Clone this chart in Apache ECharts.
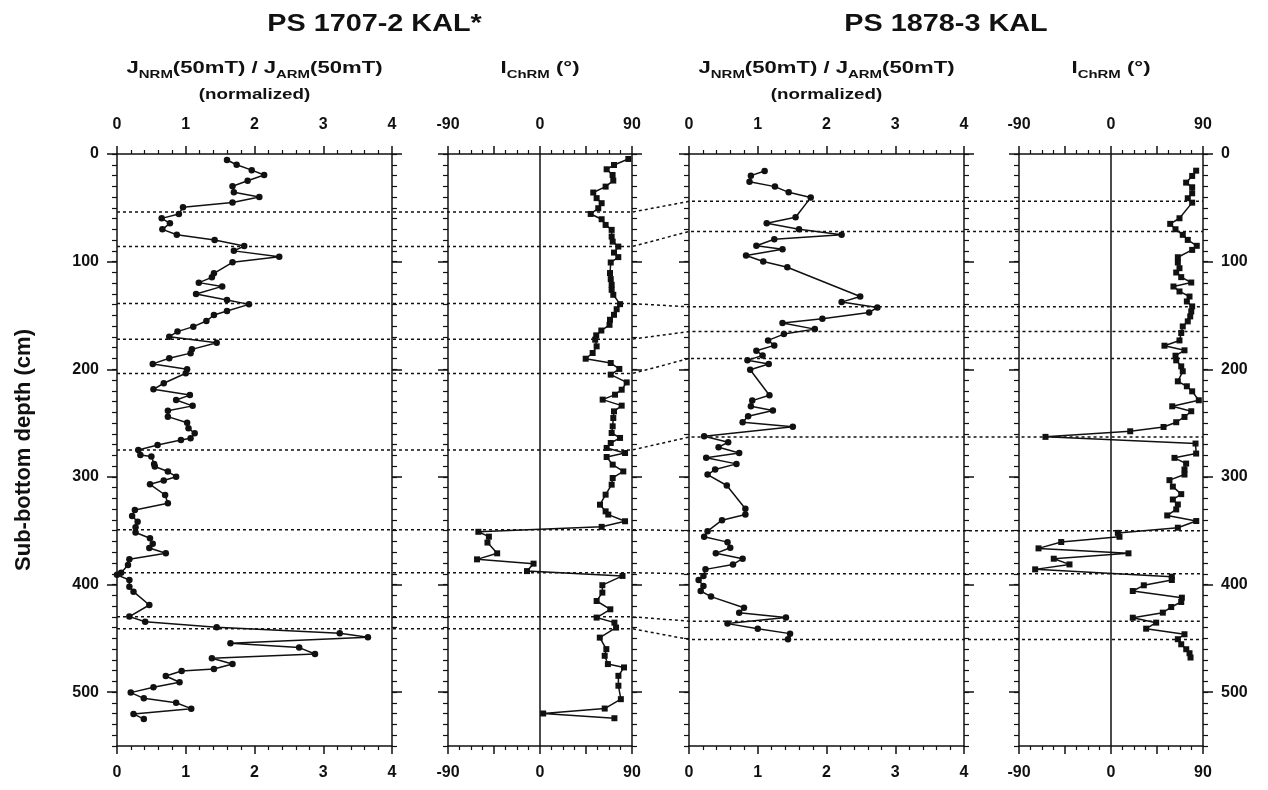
<!DOCTYPE html>
<html><head><meta charset="utf-8">
<script src="https://cdn.jsdelivr.net/npm/echarts@6/dist/echarts.min.js"></script>
<style>html,body{margin:0;padding:0;background:#fff}#c{width:1268px;height:790px}</style>
</head><body><div id="c"></div>
<script>
// PS 1707-2 KAL*: J_NRM/J_ARM (normalized) [value, depth cm]
const ps1707Ratio = [[1.60,5.6],[1.74,10],[1.96,15],[2.14,19.5],[1.90,24.8],[1.68,30],[1.70,35.6],[2.07,40],[1.68,45],[0.96,49.5],[0.90,55.7],[0.65,59.8],[0.77,64.4],[0.66,70],[0.87,75],[1.42,80],[1.85,85.5],[1.70,90],[2.36,95.4],[1.68,100.6],[1.41,110.9],[1.38,114.6],[1.19,119.5],[1.53,123],[1.15,130],[1.60,135.6],[1.92,139.7],[1.60,145.9],[1.41,149.6],[1.30,155.2],[1.11,160.4],[0.88,165],[0.76,169.7],[1.45,175.3],[1.09,181.5],[1.07,185],[0.76,189.8],[0.52,195],[1.02,200],[1.00,203.7],[0.68,213],[0.53,218.6],[1.06,224],[0.86,228.5],[1.10,234],[0.74,238.5],[0.74,244],[1.02,249.6],[1.04,254.8],[1.13,259.5],[1.07,264],[0.93,265.7],[0.59,270.3],[0.31,275],[0.34,279.6],[0.50,281],[0.54,288],[0.55,290.4],[0.74,295],[0.86,299.8],[0.68,303.3],[0.48,306.9],[0.70,316.8],[0.74,324.5],[0.26,330.7],[0.22,336.3],[0.30,341.6],[0.27,346.8],[0.27,351.7],[0.48,357],[0.52,362],[0.47,366],[0.71,371],[0.18,376.6],[0.16,381.8],[0.06,389],[0.0,391],[0.18,395.8],[0.18,402],[0.24,406.6],[0.47,419],[0.18,429.8],[0.41,434.5],[1.45,439.7],[3.24,445.3],[3.65,449],[1.65,454.6],[2.65,458.6],[2.88,464.5],[1.38,468.5],[1.68,473.8],[1.41,478.5],[0.94,480.3],[0.71,485],[0.91,490.8],[0.53,495.5],[0.20,500.4],[0.39,505.7],[0.86,509.8],[1.08,515.3],[0.24,520.2],[0.39,525]];
// PS 1707-2 KAL*: I_ChRM (deg) [value, depth cm]
const ps1707Incl = [[86.4,4.6],[72.4,10.2],[65.2,14.2],[71,19.5],[71.7,24.7],[64.2,30.3],[52.1,35.8],[55.4,41],[60.3,45.7],[57,50.4],[49.6,55.7],[60.3,60.6],[64.2,65.9],[70.1,70.5],[70.1,76.7],[71.1,81.4],[76.6,86],[72.4,91.6],[76.6,95.8],[69.2,100.8],[68.5,110.6],[69.2,116.2],[70.1,121.5],[70.1,126.2],[71.7,130.8],[78.3,139.5],[75,144.2],[72.4,149.4],[68.5,154],[68,158.7],[60,164],[55,168.5],[54,172.5],[55.4,178.7],[51.5,184.9],[44.7,190.2],[69.2,194.2],[77.6,199.7],[69.2,205],[84.8,212.2],[79.9,219],[73.4,223.6],[61.3,228.2],[79.9,233.8],[72.4,239.1],[71.7,245.3],[71.1,253],[70.1,259.2],[78.3,263.8],[69.2,268.5],[65.2,273.1],[83.2,277.8],[65.2,281.5],[71.1,288.6],[81.5,294.9],[71.1,301],[70.1,307.2],[64.2,316.5],[58.7,325.8],[64.2,332],[66.8,335],[83.2,341.2],[60.3,346.4],[-60.3,351],[-50,355.5],[-51.4,361],[-41.9,371],[-61.6,376.6],[-6.3,380.6],[-12.7,387.5],[80.7,392],[61,400.6],[61,407.5],[55.4,415.3],[68.8,423],[55.4,430.7],[72.8,435.4],[74.4,440],[58.5,449.3],[64.9,460],[63.3,466.2],[66.4,473.9],[82.2,477],[76.7,484.8],[76.7,494],[79.1,506.5],[63.3,515.2],[3.1,519.8],[72.8,524.2]];
// PS 1878-3 KAL: J_NRM/J_ARM (normalized)
const ps1878Ratio = [[1.10,15.8],[0.90,20.1],[0.88,25.7],[1.25,30.3],[1.45,35.6],[1.77,40.5],[1.55,58.7],[1.13,64.3],[1.60,69.9],[2.22,75.1],[1.24,79.2],[0.98,85.3],[1.36,88.5],[0.83,94.3],[1.08,99.9],[1.43,105.2],[2.49,132.4],[2.22,137.6],[2.74,142.6],[2.62,147.2],[1.94,153.1],[1.36,157.1],[1.83,162.7],[1.38,167.3],[1.15,173.2],[1.24,177.8],[0.98,182.8],[1.07,187.1],[0.85,191.7],[1.16,195.1],[0.89,200.4],[1.17,224.2],[0.92,229.1],[0.90,234.4],[1.22,238.4],[0.86,243.6],[0.78,249.2],[1.51,253.5],[0.22,262.2],[0.57,267.8],[0.43,272.4],[0.73,277.7],[0.25,282.3],[0.69,287.9],[0.38,293.2],[0.27,297.8],[0.55,308],[0.82,329.6],[0.82,334.9],[0.48,340.2],[0.27,350.4],[0.22,355.6],[0.56,360.6],[0.60,365.8],[0.39,371],[0.78,376],[0.64,381.3],[0.24,385.9],[0.21,392.1],[0.14,395.8],[0.21,401.4],[0.17,406],[0.32,411.2],[0.80,421.5],[0.73,426.1],[1.41,430.7],[0.56,436.3],[1.00,441],[1.47,445.6],[1.44,450.8]];
// PS 1878-3 KAL: I_ChRM (deg)
const ps1878Incl = [[83.3,15.5],[79.4,20.4],[73.5,26.6],[79.4,30.9],[79.4,36.5],[75.1,41.1],[79.4,45.2],[67,59.7],[57.9,64.9],[63.1,69.9],[70.2,75.1],[75.1,79.8],[83.9,85.3],[79.4,89.1],[65.4,95.9],[65.4,100.8],[67,106.1],[63.8,110.1],[68.7,114.4],[78.5,119.4],[61.1,123.1],[67,127.7],[76.8,132.4],[74.2,137],[79.4,141.6],[78.5,146.3],[77.5,150.9],[75.1,155.5],[70.2,160.2],[68.7,166.3],[67,173.2],[52.3,178.1],[71.9,182.4],[63.1,187.4],[63.8,191.7],[68.7,197.3],[70.2,201.9],[65.4,211.2],[74.2,215.8],[79.4,220.5],[85.9,228.8],[59.9,234.4],[78.5,239],[71.9,244.3],[63.8,249.2],[51.4,253.6],[18.8,257.6],[-64.1,262.8],[82.7,269],[83.3,278.3],[62.1,282.3],[73.5,287.6],[71.9,293.1],[71.9,297.8],[57.2,303],[60.5,309],[68.7,316],[60.5,321],[65.4,325.6],[63.8,330.2],[55,335.8],[83.4,341],[65.4,347.2],[6.7,352],[8.3,355.6],[-48.7,360.5],[-70.9,366.4],[17.1,371],[-56,376],[-40.6,381.3],[-74.2,385.9],[59.5,392.7],[59.5,395.8],[32.1,400.7],[21.3,406],[69.3,412.2],[68.7,416.2],[58.9,420.9],[50.7,426.1],[21.3,430.8],[44.2,435.4],[34.4,441],[71.9,446.2],[65.4,450.8],[68.7,455.5],[73.6,460.1],[76.8,463.8],[77.8,467.8]];
// Tie lines (depth cm) PS 1707-2 -> PS 1878-3
const tie1707 = [54, 86, 139, 172, 204, 275, 349, 389, 430, 441];
const tie1878 = [44, 72, 142, 165, 190, 263, 350, 390, 434, 451];
// Tick labels
const ratioLabels = [0, 1, 2, 3, 4];
const inclLabels = [-90, 0, 90];
const depthLabels = [0, 100, 200, 300, 400, 500];

const FONT = '"Liberation Sans", Arial, sans-serif';
const INK = '#111';
const TOP = 154, HEIGHT = 592;
const panels = [
  {left: 117, width: 275, min: 0, max: 4, interval: 1, minor: 5, data: ps1707Ratio, symbol: 'circle', labels: ratioLabels},
  {left: 448, width: 184, min: -90, max: 90, interval: 45, minor: 4, data: ps1707Incl, symbol: 'rect', labels: inclLabels, zero: true},
  {left: 689, width: 275, min: 0, max: 4, interval: 1, minor: 5, data: ps1878Ratio, symbol: 'circle', labels: ratioLabels},
  {left: 1019, width: 184, min: -90, max: 90, interval: 45, minor: 4, data: ps1878Incl, symbol: 'rect', labels: inclLabels, zero: true}
];
const lineStyle = {color: INK, width: 1.5};
const labelStyle = {color: INK, fontSize: 16, fontWeight: 'bold', fontFamily: FONT};

const grid = [], xAxis = [], yAxis = [], series = [];
panels.forEach((p, i) => {
  grid.push({left: p.left, top: TOP, width: p.width, height: HEIGHT, containLabel: false});
  ['bottom', 'top'].forEach(pos => {
    xAxis.push({
      gridIndex: i, type: 'value', position: pos, min: p.min, max: p.max, interval: p.interval,
      axisLine: {show: true, onZero: false, lineStyle},
      axisTick: {show: true, length: 8, lineStyle},
      minorTick: {show: true, splitNumber: p.minor, length: 4, lineStyle: {color: INK, width: 1.2}},
      splitLine: {show: false}, minorSplitLine: {show: false},
      axisLabel: Object.assign({margin: pos === 'top' ? 21 : 19,
        formatter: v => p.labels.indexOf(v) >= 0 ? String(v) : ''}, labelStyle)
    });
  });
  ['left', 'right'].forEach(pos => {
    const showLab = (i === 0 && pos === 'left') || (i === 3 && pos === 'right');
    yAxis.push({
      gridIndex: i, type: 'value', position: pos, inverse: true, min: 0, max: 550, interval: 100,
      axisLine: {show: true, onZero: false, lineStyle},
      axisTick: {show: true, length: 10, lineStyle, customValues: depthLabels},
      splitLine: {show: false},
      axisLabel: Object.assign({show: showLab, margin: 18, customValues: depthLabels}, labelStyle)
    });
    yAxis.push({
      gridIndex: i, type: 'value', position: pos, inverse: true, min: 0, max: 550, interval: 10,
      axisLine: {show: false, onZero: false},
      axisTick: {show: true, length: 5, lineStyle: {color: INK, width: 1.2}},
      splitLine: {show: false}, axisLabel: {show: false}
    });
  });
  const s = {
    type: 'line', xAxisIndex: 2 * i, yAxisIndex: 4 * i, data: p.data,
    symbol: p.symbol, symbolSize: p.symbol === 'rect' ? 6 : 6.5,
    itemStyle: {color: INK}, lineStyle: {color: INK, width: 1.5},
    z: 3, silent: true
  };
  if (p.zero) {
    s.markLine = {silent: true, symbol: ['none', 'none'], label: {show: false},
      lineStyle: {color: INK, type: 'solid', width: 1.5}, data: [{xAxis: 0}]};
  }
  series.push(s);
});

const chart = echarts.init(document.getElementById('c'), null, {renderer: 'canvas'});
chart.setOption({animation: false, backgroundColor: '#fff', grid, xAxis, yAxis, series});

// headers
const txt = (x, y, text, size, opts) => Object.assign({
  type: 'text', x, y, silent: true,
  style: {text, fill: INK, fontSize: size, fontWeight: 'bold', fontFamily: FONT, align: 'center', verticalAlign: 'middle'}
}, opts || {});
const rich = {
  a: {fontSize: 17, fontWeight: 'bold', fontFamily: FONT, fill: INK, lineHeight: 26, verticalAlign: 'middle'},
  s: {fontSize: 11.5, fontWeight: 'bold', fontFamily: FONT, fill: INK, verticalAlign: 'bottom'}
};
const richTxt = (x, y, text) => ({
  type: 'text', x, y, silent: true, scaleX: 1.3,
  style: {text, rich, fill: INK, fontSize: 17, fontWeight: 'bold', fontFamily: FONT, align: 'center', verticalAlign: 'middle'}
});
const jText = '{a|J}{s|NRM}{a|(50mT) / J}{s|ARM}{a|(50mT)}';
const iText = '{a|I}{s|ChRM}{a| (°)}';

// tie lines through library scales
const yPix = d => chart.convertToPixel({yAxisIndex: 0}, d);
const xPix = (ax, v) => chart.convertToPixel({xAxisIndex: ax}, v);
const ties = tie1707.map((d1, k) => {
  const d2 = tie1878[k];
  return {
    type: 'polyline', silent: true, z: 1,
    shape: {points: [[xPix(0, 0), yPix(d1)], [xPix(2, 90), yPix(d1)], [xPix(4, 0), yPix(d2)], [xPix(6, 90), yPix(d2)]]},
    style: {stroke: INK, lineWidth: 1.5, lineDash: [3, 3], fill: null}
  };
});

const c1 = (xPix(0, 0) + xPix(2, 90)) / 2;
const c2 = (xPix(4, 0) + xPix(6, 90)) / 2;
chart.setOption({graphic: [
  ...ties,
  txt(c1, 24, 'PS 1707-2 KAL*', 24, {scaleX: 1.2}),
  txt(c2, 24, 'PS 1878-3 KAL', 24, {scaleX: 1.2}),
  richTxt(xPix(0, 2), 68, jText),
  richTxt(xPix(4, 2), 68, jText),
  txt(xPix(0, 2), 95, '(normalized)', 15, {scaleX: 1.25}),
  txt(xPix(4, 2), 95, '(normalized)', 15, {scaleX: 1.25}),
  richTxt(xPix(2, 0), 68, iText),
  richTxt(xPix(6, 0), 68, iText),
  txt(24, yPix(275), 'Sub-bottom depth (cm)', 22, {rotation: Math.PI / 2})
]});
</script></body></html>
